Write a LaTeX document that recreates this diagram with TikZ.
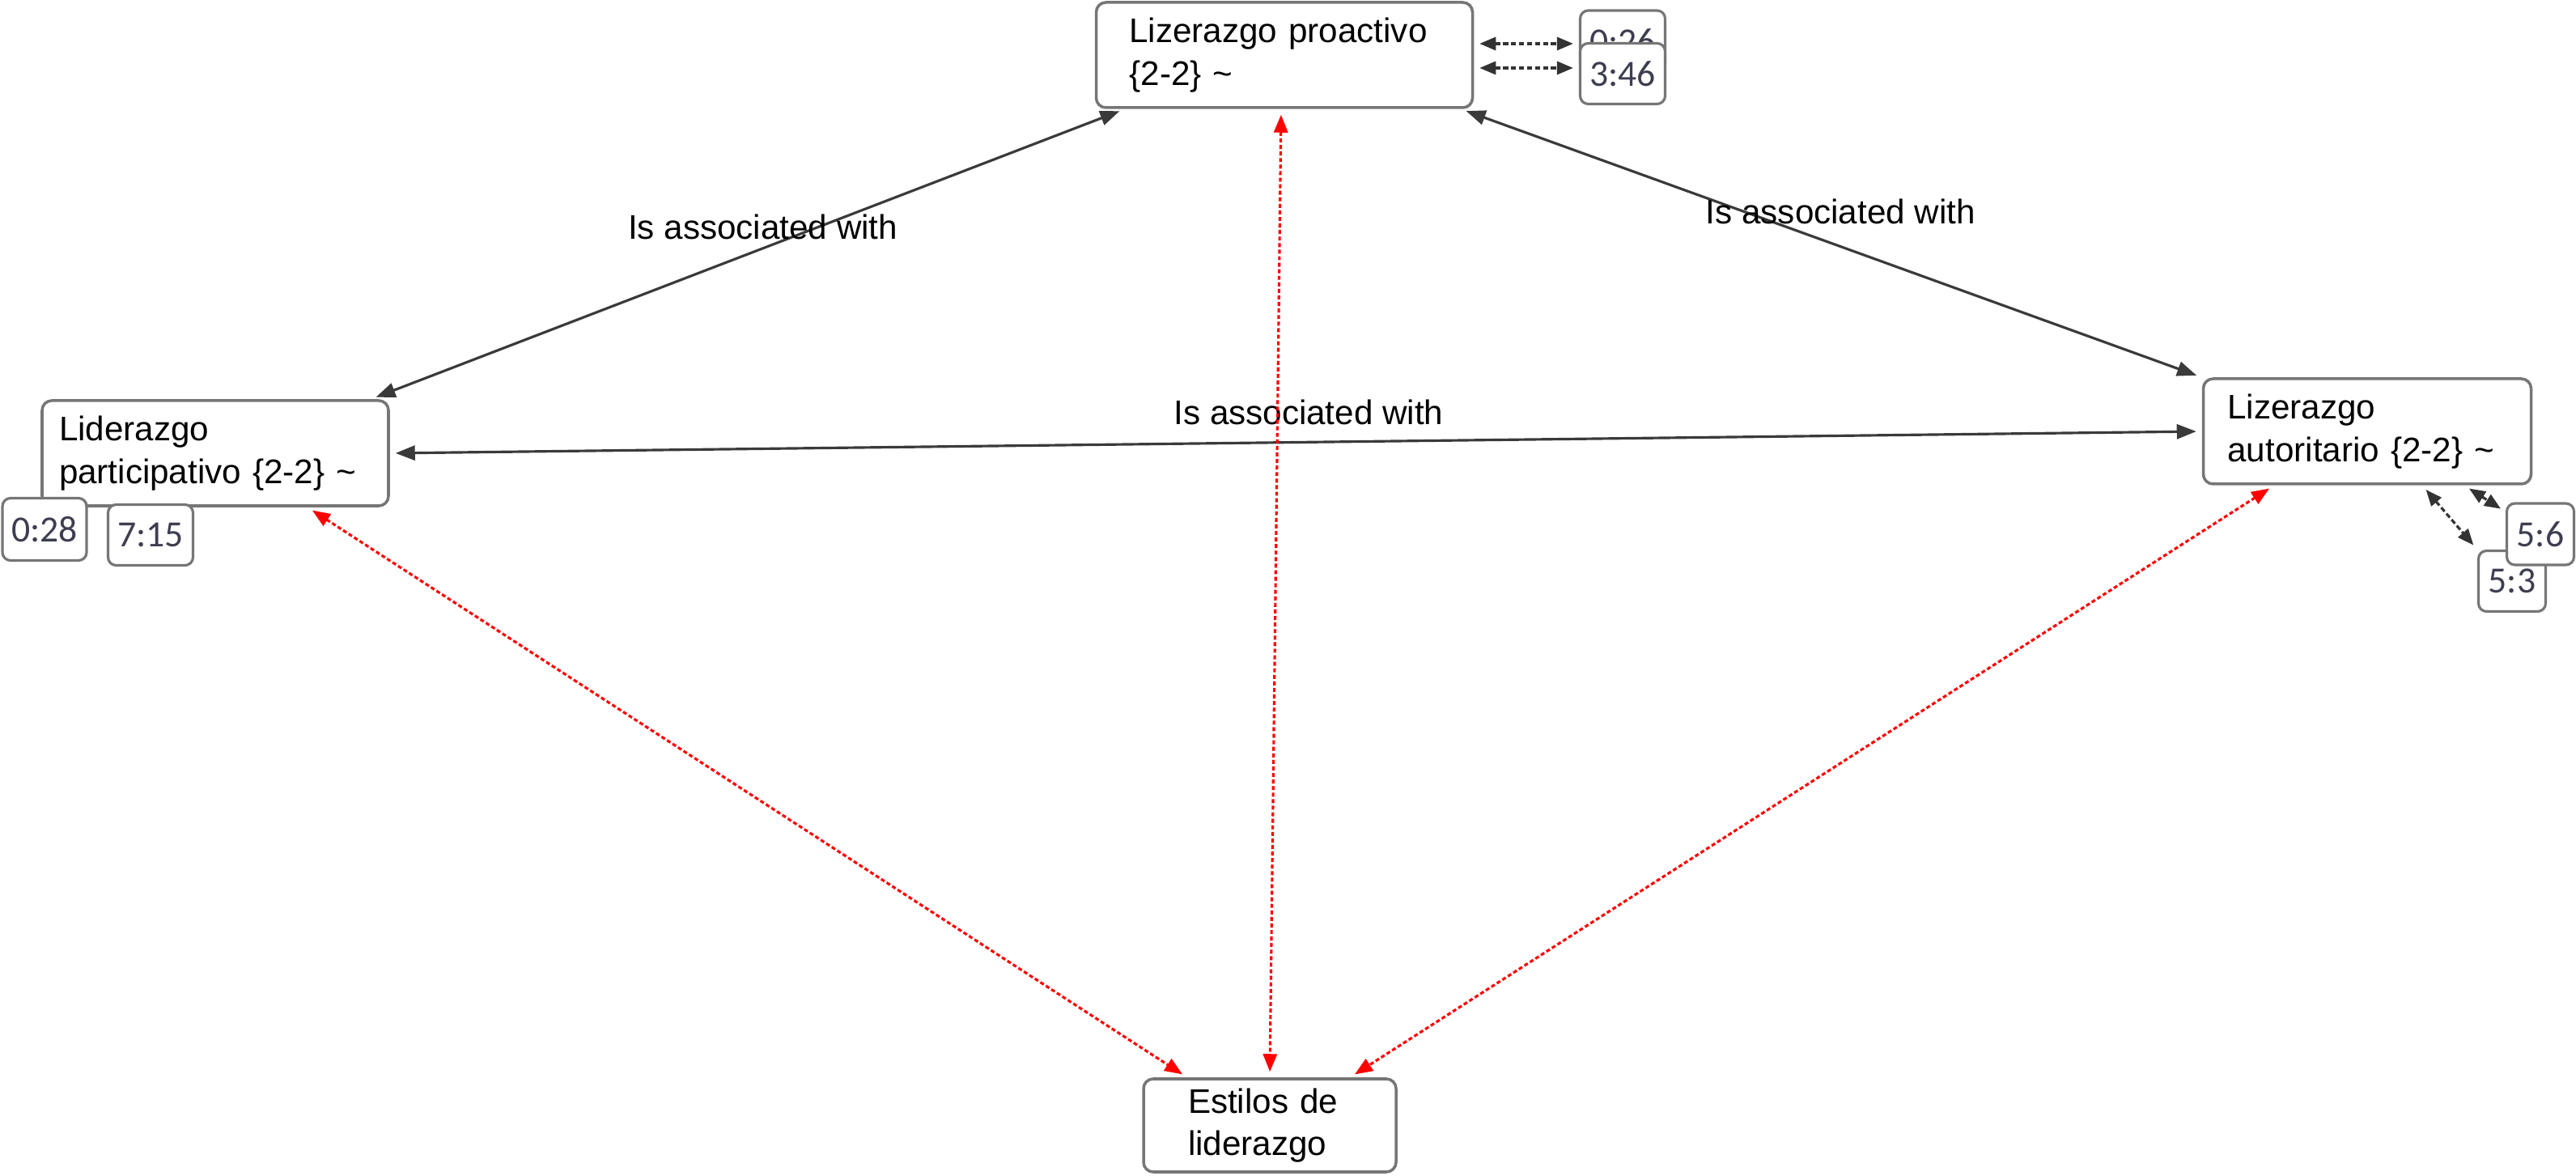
\documentclass[tikz,border=0pt]{standalone}
\usepackage{fontspec}
\setmainfont{Liberation Sans}
\newfontfamily\tagfont{Carlito}
\usepackage{xcolor}
\usepackage{tikz}
\usetikzlibrary{arrows.meta, calc}

\definecolor{boxgray}{RGB}{118,118,118}
\definecolor{linegray}{RGB}{58,58,58}
\definecolor{tagtext}{RGB}{62,62,80}

\begin{document}
\begin{tikzpicture}[<->,>={Triangle[length=0.24cm,width=0.18cm]},shorten >=0.07cm,shorten <=0.07cm,semithick]
    \tikzset{code/.style={draw=boxgray, line width=1pt, rounded corners=0.12cm, fill=white, align=left,
        font=\fontsize{12}{15}\selectfont, minimum height=1.3cm, inner ysep=0pt}}
    \tikzset{quote/.style={draw=boxgray, line width=0.9pt, rounded corners=0.1cm, fill=white,
        font=\tagfont\fontsize{13}{15}\selectfont, text=tagtext, minimum height=0.76cm, inner sep=0pt}}
    \tikzset{assoc/.style={draw=linegray, line width=0.9pt}}
    \tikzset{group/.style={draw=red, line width=0.9pt, dash pattern=on 1.4pt off 0.9pt,
        >={Triangle[length=0.22cm,width=0.17cm]}}}
    \tikzset{link/.style={draw=black!80, line width=0.9pt, dash pattern=on 1.8pt off 1pt,
        >={Triangle[length=0.2cm,width=0.16cm]}}}
    \tikzset{rel/.style={font=\fontsize{12}{15}\selectfont, inner sep=0pt}}

    \useasboundingbox (0,0) rectangle (31.83,-14.53);

    \node[code, text width=3.83cm, inner xsep=0.41cm] (proactivo) at (15.87,-0.68) {Lizerazgo proactivo\\ \{2-2\} \textasciitilde};
    \node[code, text width=3.86cm, inner xsep=0.21cm] (participativo) at (2.66,-5.60) {Liderazgo\\ participativo \{2-2\} \textasciitilde};
    \node[code, text width=3.45cm, inner xsep=0.30cm] (autoritario) at (29.25,-5.33) {Lizerazgo\\ autoritario \{2-2\} \textasciitilde};
    \node[code, text width=2.02cm, inner xsep=0.55cm, minimum height=1.15cm] (estilos) at (15.69,-13.905) {Estilos de\\ liderazgo};

    % quotations
    \node[quote, minimum width=1.05cm] (t026) at (20.05,-0.51) {0:26};
    \node[quote, minimum width=1.05cm, minimum height=0.75cm] (t346) at (20.05,-0.91) {3:46};
    \node[quote, minimum width=1.04cm, minimum height=0.77cm] (t028) at (0.55,-6.54) {0:28};
    \node[quote, minimum width=1.05cm, minimum height=0.75cm] (t715) at (1.86,-6.61) {7:15};
    \node[quote, minimum width=0.83cm, minimum height=0.75cm] (t53) at (31.04,-7.18) {5:3};
    \node[quote, minimum width=0.83cm] (t56) at (31.39,-6.60) {5:6};

    \path ([xshift=-1.97cm]proactivo.south) edge[assoc] node[rel, pos=0.48, yshift=0.26cm] (assocA) {Is associated with} ([xshift=1.92cm]participativo.north);
    \path ([xshift=2.18cm]proactivo.south) edge[assoc] node[rel, pos=0.5125, yshift=0.43cm] (assocB) {Is associated with} (autoritario.north west);
    \path (participativo.east) edge[assoc] node[rel, pos=0.507, yshift=0.37cm] (assocC) {Is associated with} (autoritario.west);

    \path ([xshift=1.14cm]participativo.south) edge[group] ([xshift=-1.02cm]estilos.north);
    \path ([xshift=-0.04cm]proactivo.south) edge[group] (estilos.north);
    \path ([xshift=-1.15cm]autoritario.south) edge[group] ([xshift=0.99cm]estilos.north);

    \path ($(proactivo.east |- t026.west)+(0,-0.03)$) edge[link] ([yshift=-0.03cm]t026.west);
    \path ($(proactivo.east |- t346.west)+(0,0.07)$) edge[link] ([yshift=0.07cm]t346.west);
    \path ([xshift=0.68cm]autoritario.south) edge[link] (t53.north west);
    \path ([xshift=1.2cm]autoritario.south) edge[link] ([yshift=-0.12cm]t56.north west);
\end{tikzpicture}
\end{document}
